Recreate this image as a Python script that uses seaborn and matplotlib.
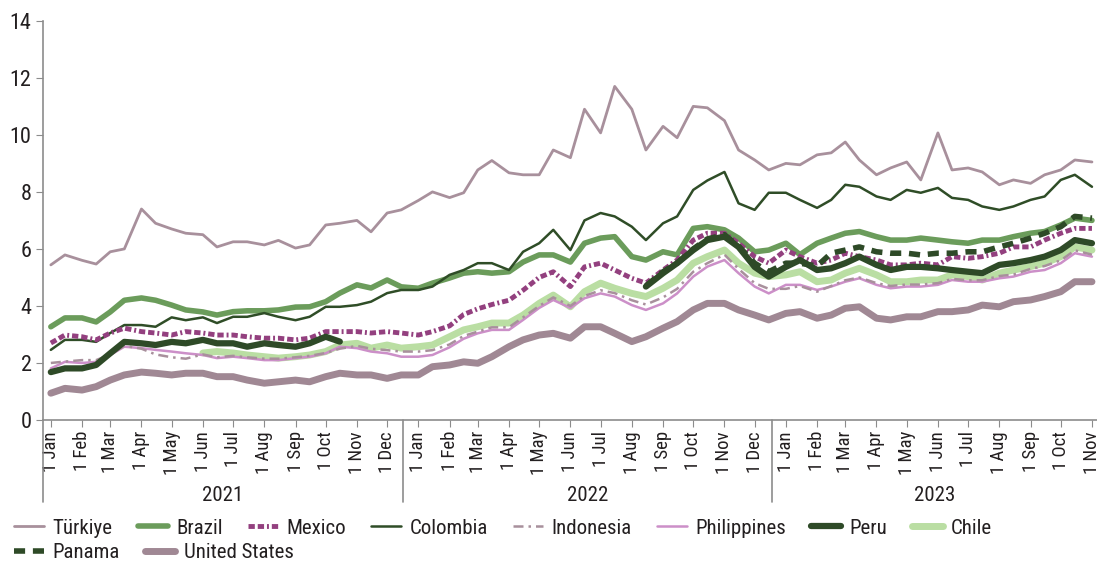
import pandas as pd
import numpy as np
import matplotlib
matplotlib.use("Agg")
import matplotlib.pyplot as plt
import matplotlib.dates as mdates
from matplotlib.lines import Line2D
import seaborn as sns

nan = np.nan

# semi-monthly observations (1st and 15th), 1 Jan 2021 .. 1 Nov 2023
dates = pd.date_range("2021-01-01", "2023-11-01", freq="SMS")

turkiye = [5.44, 5.79, 5.6, 5.47, 5.9, 6.0, 7.4, 6.9, 6.7, 6.55, 6.5, 6.07,
           6.25, 6.25, 6.14, 6.3, 6.03, 6.14, 6.84, 6.9, 7.0, 6.6, 7.26, 7.37,
           7.7, 8.0, 7.8, 7.97, 8.77, 9.1, 8.67, 8.6, 8.6, 9.47, 9.2, 10.9,
           10.07, 11.7, 10.9, 9.47, 10.3, 9.9, 11.0, 10.95, 10.5, 9.47, 9.12, 8.77,
           9.0, 8.95, 9.3, 9.37, 9.75, 9.12, 8.6, 8.84, 9.05, 8.42, 10.07, 8.77,
           8.84, 8.7, 8.25, 8.42, 8.3, 8.6, 8.77, 9.12, 9.05]
brazil = [3.27, 3.58, 3.58, 3.44, 3.79, 4.2, 4.28, 4.2, 4.03, 3.86, 3.79, 3.68,
          3.8, 3.83, 3.83, 3.86, 3.96, 3.97, 4.15, 4.45, 4.74, 4.63, 4.91, 4.67,
          4.62, 4.8, 4.98, 5.15, 5.2, 5.15, 5.2, 5.54, 5.79, 5.79, 5.54, 6.2,
          6.38, 6.43, 5.73, 5.61, 5.9, 5.79, 6.72, 6.78, 6.67, 6.38, 5.9, 5.96,
          6.2, 5.8, 6.2, 6.38, 6.55, 6.61, 6.43, 6.31, 6.31, 6.38, 6.31, 6.25,
          6.2, 6.31, 6.31, 6.43, 6.55, 6.61, 6.84, 7.08, 7.0]
mexico = [2.7, 2.98, 2.92, 2.81, 3.05, 3.22, 3.1, 3.05, 2.98, 3.1, 3.05, 2.98,
          2.98, 2.92, 2.87, 2.87, 2.81, 2.87, 3.1, 3.1, 3.1, 3.05, 3.1, 3.05,
          2.98, 3.1, 3.3, 3.7, 3.9, 4.05, 4.2, 4.55, 5.0, 5.2, 4.68, 5.37,
          5.5, 5.26, 4.97, 4.8, 5.26, 5.61, 6.31, 6.55, 6.55, 6.2, 5.73, 5.5,
          5.96, 5.73, 5.5, 5.61, 5.85, 5.73, 5.61, 5.44, 5.44, 5.5, 5.44, 5.73,
          5.67, 5.73, 5.85, 6.07, 6.07, 6.31, 6.55, 6.72, 6.72]
colombia = [2.46, 2.81, 2.81, 2.74, 3.05, 3.33, 3.33, 3.27, 3.6, 3.5, 3.6, 3.4,
            3.62, 3.62, 3.75, 3.62, 3.5, 3.62, 3.97, 3.97, 4.03, 4.15, 4.45, 4.56,
            4.56, 4.68, 5.09, 5.26, 5.5, 5.5, 5.26, 5.9, 6.2, 6.67, 5.96, 7.0,
            7.26, 7.14, 6.78, 6.31, 6.9, 7.14, 8.07, 8.4, 8.7, 7.6, 7.37, 7.97,
            7.97, 7.72, 7.44, 7.72, 8.25, 8.18, 7.84, 7.72, 8.07, 7.97, 8.14, 7.79,
            7.72, 7.49, 7.37, 7.49, 7.72, 7.84, 8.42, 8.6, 8.18]
indonesia = [2.0, 2.05, 2.1, 2.1, 2.3, 2.6, 2.5, 2.3, 2.2, 2.15, 2.3, 2.2,
             2.25, 2.2, 2.15, 2.15, 2.2, 2.25, 2.35, 2.5, 2.6, 2.5, 2.45, 2.4,
             2.4, 2.45, 2.65, 2.95, 3.1, 3.25, 3.25, 3.6, 4.0, 4.3, 4.0, 4.35,
             4.55, 4.45, 4.2, 4.05, 4.3, 4.6, 5.2, 5.5, 5.8, 5.3, 4.8, 4.6,
             4.6, 4.7, 4.5, 4.7, 4.9, 5.0, 4.8, 4.7, 4.75, 4.75, 4.8, 4.95,
             4.9, 4.9, 5.05, 5.1, 5.3, 5.4, 5.6, 5.95, 5.8]
philippines = [1.81, 2.04, 2.0, 2.04, 2.28, 2.57, 2.52, 2.46, 2.4, 2.34, 2.28, 2.17,
               2.22, 2.17, 2.1, 2.1, 2.17, 2.22, 2.34, 2.57, 2.52, 2.4, 2.34, 2.22,
               2.22, 2.28, 2.55, 2.85, 3.04, 3.16, 3.16, 3.51, 3.93, 4.21, 3.93, 4.27,
               4.44, 4.33, 4.03, 3.86, 4.09, 4.44, 5.03, 5.38, 5.61, 5.15, 4.68, 4.44,
               4.74, 4.74, 4.56, 4.68, 4.85, 4.97, 4.74, 4.62, 4.68, 4.68, 4.74, 4.91,
               4.85, 4.85, 4.97, 5.03, 5.2, 5.26, 5.5, 5.85, 5.73]
peru = [1.68, 1.81, 1.81, 1.93, 2.34, 2.74, 2.69, 2.63, 2.74, 2.69, 2.81, 2.69,
        2.69, 2.57, 2.69, 2.63, 2.57, 2.69, 2.92, 2.75, nan, nan, nan, nan,
        nan, nan, nan, nan, nan, nan, nan, nan, nan, nan, nan, nan,
        nan, nan, nan, 4.68, 5.15, 5.5, 5.96, 6.31, 6.43, 6.07, 5.37, 5.03,
        5.37, 5.61, 5.26, 5.32, 5.5, 5.73, 5.44, 5.26, 5.37, 5.37, 5.32, 5.26,
        5.2, 5.15, 5.44, 5.5, 5.61, 5.73, 5.96, 6.31, 6.2]
chile = [nan, nan, nan, nan, nan, nan, nan, nan, nan, nan, 2.35, 2.4,
         2.35, 2.28, 2.22, 2.17, 2.22, 2.28, 2.4, 2.63, 2.69, 2.52, 2.63, 2.52,
         2.57, 2.63, 2.92, 3.16, 3.27, 3.4, 3.4, 3.68, 4.09, 4.38, 3.97, 4.5,
         4.8, 4.62, 4.44, 4.33, 4.62, 4.91, 5.5, 5.73, 5.96, 5.5, 5.15, 5.03,
         5.09, 5.2, 4.85, 4.91, 5.15, 5.32, 5.09, 4.85, 4.85, 4.91, 4.91, 5.09,
         5.03, 4.91, 5.15, 5.26, 5.38, 5.5, 5.73, 6.07, 5.96]
panama = [nan] * 24 + [nan] * 15 + [4.7, 5.2, 5.5, 6.0, 6.35, 6.5, 6.1, 5.5, 5.2,
          5.5, 5.5, 5.4, 5.85, 5.96, 6.07, 5.9, 5.85, 5.85, 5.79, 5.85, 5.85,
          5.9, 5.9, 6.07, 6.2, 6.38, 6.55, 6.78, 7.14, 7.08]
united_states = [0.94, 1.11, 1.05, 1.17, 1.4, 1.58, 1.68, 1.64, 1.58, 1.64, 1.64, 1.52,
                 1.52, 1.4, 1.29, 1.34, 1.4, 1.34, 1.52, 1.64, 1.58, 1.58, 1.46, 1.58,
                 1.58, 1.87, 1.93, 2.04, 1.99, 2.22, 2.57, 2.81, 2.98, 3.04, 2.87, 3.27,
                 3.27, 3.04, 2.75, 2.92, 3.22, 3.45, 3.86, 4.09, 4.09, 3.86, 3.68, 3.51,
                 3.74, 3.8, 3.57, 3.68, 3.92, 3.97, 3.57, 3.51, 3.62, 3.62, 3.8, 3.8,
                 3.86, 4.03, 3.97, 4.15, 4.21, 4.33, 4.5, 4.85, 4.85]

series = {
    "Türkiye": turkiye, "Brazil": brazil, "Mexico": mexico, "Colombia": colombia,
    "Indonesia": indonesia, "Philippines": philippines, "Peru": peru, "Chile": chile,
    "Panama": panama, "United States": united_states,
}

# look of each line
styles = {
    "Türkiye": dict(color="#a8909c", lw=2.0, ls="-"),
    "Brazil": dict(color="#6b9c5b", lw=4.0, ls="-"),
    "Mexico": dict(color="#93407f", lw=3.5, ls=(0, (1.3, 0.6, 1.3, 0.6, 0.4, 0.6))),
    "Colombia": dict(color="#2f4d27", lw=1.8, ls="-"),
    "Indonesia": dict(color="#a8909c", lw=1.8, ls=(0, (4, 2, 1, 2))),
    "Philippines": dict(color="#cc8fc8", lw=1.8, ls="-"),
    "Peru": dict(color="#2e4a27", lw=4.5, ls="-"),
    "Chile": dict(color="#badea3", lw=5.0, ls="-"),
    "Panama": dict(color="#2e4a27", lw=4.0, ls=(0, (2, 1.4))),
    "United States": dict(color="#a08894", lw=5.0, ls="-"),
}
draw_order = ["United States", "Türkiye", "Chile", "Philippines", "Indonesia",
              "Brazil", "Colombia", "Mexico", "Panama", "Peru"]

sns.set_style("ticks")
plt.rcParams["font.family"] = ["Liberation Sans Narrow", "DejaVu Sans Condensed",
                               "Roboto Condensed", "Liberation Sans", "DejaVu Sans"]
plt.rcParams["font.stretch"] = "condensed"
grey = "#8c8c8c"
ink = "#231f20"

fig = plt.figure(figsize=(10.97, 5.63), dpi=100)
ax = fig.add_axes([0.039, 0.254, 0.961, 0.709])

for name in draw_order:
    st = styles[name]
    df = pd.DataFrame({"date": dates, "value": series[name]})
    df["seg"] = df["value"].isna().cumsum()
    df = df.dropna()
    sns.lineplot(data=df, x="date", y="value", units="seg", estimator=None,
                 ax=ax, color=st["color"], linewidth=st["lw"],
                 linestyle=st["ls"], legend=False)

x0, x1 = pd.Timestamp("2020-12-24"), pd.Timestamp("2023-11-06")
ax.set_xlim(x0, x1)
ax.set_ylim(0, 14)
ax.set_yticks(range(0, 15, 2))
ax.set_xlabel("")
ax.set_ylabel("")
ax.xaxis.set_major_locator(mdates.MonthLocator())
ax.xaxis.set_major_formatter(mdates.DateFormatter("1 %b"))
ax.tick_params(axis="x", rotation=90, labelsize=13.5, length=5, color=grey,
               pad=3, labelcolor=ink)
ax.tick_params(axis="y", labelsize=16, length=5, color=grey, pad=3, labelcolor=ink)
for side in ["top", "right"]:
    ax.spines[side].set_visible(False)
for side in ["left", "bottom"]:
    ax.spines[side].set_color(grey)
    ax.spines[side].set_linewidth(1.2)

# year groups under the month labels
trans = ax.get_xaxis_transform()
bounds = [x0, pd.Timestamp("2021-12-17"), pd.Timestamp("2022-12-18"), x1]
for b in bounds[:-1]:
    ax.plot([b, b], [0, -0.205], transform=trans, color=grey, lw=1.2, clip_on=False)
for year, a, b in zip(["2021", "2022", "2023"], bounds[:-1], bounds[1:]):
    ax.text(a + (b - a) / 2, -0.188, year, transform=trans, ha="center",
            va="center", fontsize=15, color=ink)


def handle(name):
    st = styles[name]
    return Line2D([], [], color=st["color"], lw=st["lw"], linestyle=st["ls"])


row1 = ["Türkiye", "Brazil", "Mexico", "Colombia", "Indonesia", "Philippines", "Peru", "Chile"]
row2 = ["Panama", "United States"]
leg_kw = dict(loc="center left", frameon=False, fontsize=15, handlelength=1.45,
              handletextpad=0.4, columnspacing=1.2, borderaxespad=0, borderpad=0,
              labelcolor=ink)
fig.legend([handle(n) for n in row1], row1, ncol=8,
           bbox_to_anchor=(0.013, 0.062), **leg_kw)
fig.legend([handle(n) for n in row2], row2, ncol=2,
           bbox_to_anchor=(0.013, 0.018), **leg_kw)

fig.savefig("out.png", dpi=100)
